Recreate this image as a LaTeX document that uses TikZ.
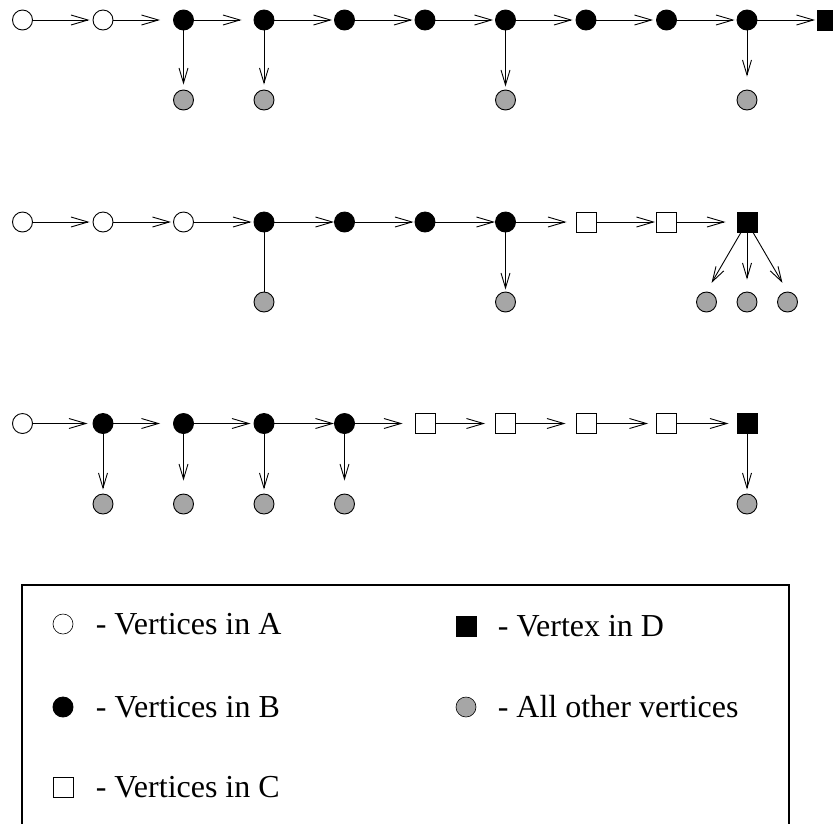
\documentclass[tikz,border=0pt]{standalone}
\usepackage{fontspec}
\setmainfont{Liberation Serif}
\usetikzlibrary{arrows.meta,positioning}
\begin{document}
\begin{tikzpicture}[x=1pt,y=-1pt,line width=0.9pt,
  vert/.style={draw,minimum size=20pt,inner sep=0pt},
  vA/.style={vert,circle,fill=white},
  vB/.style={vert,circle,fill=black},
  vC/.style={vert,rectangle,fill=white},
  vD/.style={vert,rectangle,fill=black},
  vO/.style={vert,circle,fill=gray!70},
  hop/.style={-{Straight Barb[length=17pt,width=10pt]}},
  drop/.style={-{Straight Barb[length=15pt,width=9pt]}},
  keytext/.style={font=\fontsize{32}{38}\selectfont,inner sep=0pt,anchor=west}]
\useasboundingbox (0,0) rectangle (833,823);
% first chain
\foreach \t [count=\i from 0] in {vA,vA,vB,vB,vB,vB,vB,vB,vB,vB,vD}
  \node[\t] (a\i) at (22.5+80.5*\i,20) {};
\foreach \i in {2,3,6,9}
  \node[vO] (ag\i) at (22.5+80.5*\i,100) {};
\foreach \i/\s [evaluate=\i as \j using int(\i+1)] in {0/3,1/13,2/12,3/2,4/2,5/2,6/3,7/3,8/2,9/2}
  \draw[hop,shorten >=\s pt] (a\i) -- (a\j);
\foreach \i/\s in {2/5,3/5,6/3,9/13}
  \draw[drop,shorten >=\s pt] (a\i) -- (ag\i);
% second chain
\foreach \t [count=\i from 0] in {vA,vA,vA,vB,vB,vB,vB,vC,vC,vD}
  \node[\t] (b\i) at (22.5+80.5*\i,222) {};
\node[vO] (bg3) at (264,302) {};
\node[vO] (bg6) at (505.5,302) {};
\foreach \k/\dx in {l/-40.5,m/0,r/40.5}
  \node[vO] (bg9\k) at (747+\dx,302) {};
\foreach \i/\s [evaluate=\i as \j using int(\i+1)] in {0/3,1/2,2/2,3/0,4/1,5/0,6/9,7/1,8/11}
  \draw[hop,shorten >=\s pt] (b\i) -- (b\j);
\draw (b3) -- (bg3);
\draw[drop,shorten >=2pt] (b6) -- (bg6);
\draw[drop,shorten >=10pt] (b9.240) -- (bg9l.north);
\draw[drop,shorten >=12pt] (b9) -- (bg9m);
\draw[drop,shorten >=10pt] (b9.300) -- (bg9r.north);
% third chain
\foreach \t [count=\i from 0] in {vA,vB,vB,vB,vB,vC,vC,vC,vC,vD}
  \node[\t] (c\i) at (22.5+80.5*\i,423.5) {};
\foreach \i in {1,2,3,4,9}
  \node[vO] (cg\i) at (22.5+80.5*\i,504) {};
\foreach \i/\s [evaluate=\i as \j using int(\i+1)] in {0/5,1/13,2/3,3/0,4/12,5/10,6/10,7/8,8/8}
  \draw[hop,shorten >=\s pt] (c\i) -- (c\j);
\foreach \i/\s in {1/4,2/13,3/4,4/13,9/4}
  \draw[drop,shorten >=\s pt] (c\i) -- (cg\i);
% legend
\draw[line width=1.6pt] (22,585) rectangle (789,827);
\node[vA,line width=0.6pt] (keyA) at (63,624) {};
\node[keytext,right=22pt of keyA] (textA) {- Vertices in A};
\node[vB] (keyB) at (63,707) {};
\node[keytext,right=22pt of keyB] (textB) {- Vertices in B};
\node[vC,line width=0.6pt] (keyC) at (63,787) {};
\node[keytext,right=22pt of keyC] (textC) {- Vertices in C};
\node[vD] (keyD) at (466,626) {};
\node[keytext,right=21pt of keyD] (textD) {- Vertex in D};
\node[vO,line width=0.6pt] (keyO) at (466,707) {};
\node[keytext,right=21pt of keyO] (textO) {- All other vertices};
\end{tikzpicture}
\end{document}
